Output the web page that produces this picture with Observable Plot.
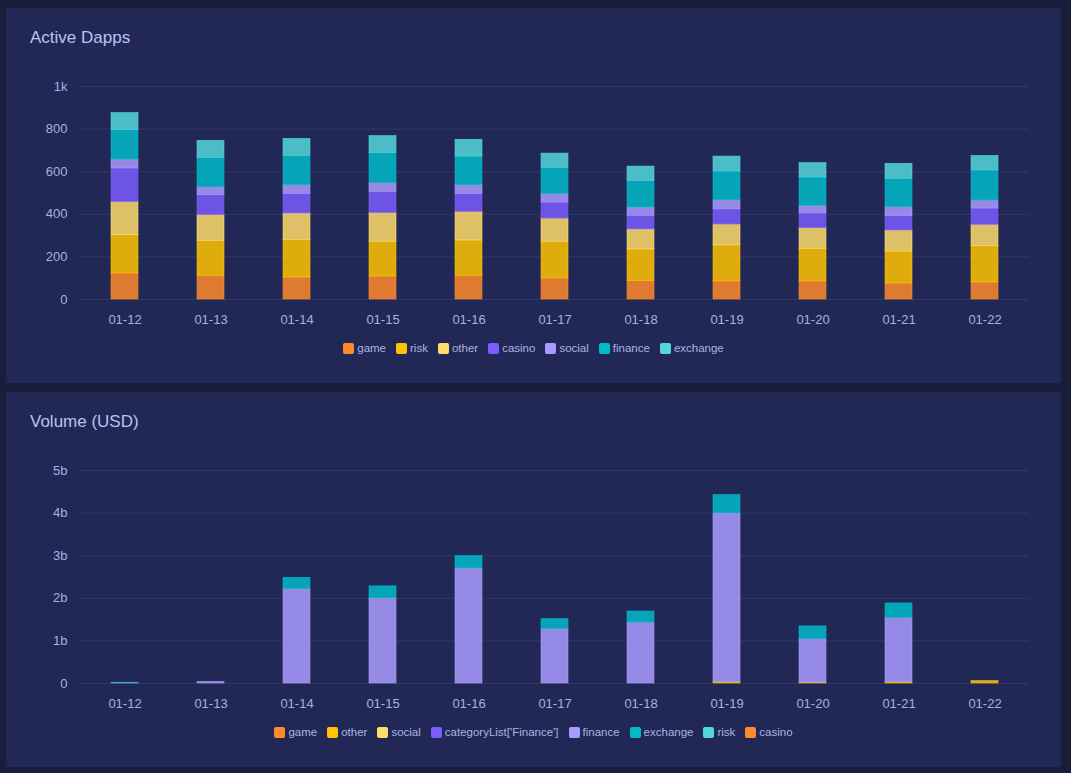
<!DOCTYPE html>
<html><head><meta charset="utf-8">
<script src="https://cdn.jsdelivr.net/npm/d3@7"></script>
<script src="https://cdn.jsdelivr.net/npm/@observablehq/plot@0.6"></script>
<style>
body{margin:0;background:#1b1e3a;width:1071px;height:773px;overflow:hidden;font-family:"Liberation Sans",Arial,sans-serif;position:relative;}
.panel{position:absolute;left:6px;width:1055px;height:375px;background:#222855;border-radius:2px;}
.title{position:absolute;left:24px;top:20px;font-size:17px;color:#b9c3ef;}
.chart{position:absolute;left:0;top:60px;}
.legend{position:absolute;left:0;top:334px;width:100%;display:flex;justify-content:center;gap:10px;font-size:11.5px;line-height:13px;color:#a9b3e3;}
.item{display:flex;align-items:center;gap:3px}
.sw{width:11px;height:11px;border-radius:2px}
</style></head>
<body>
<div class="panel" id="p1" style="top:8px"><div class="title">Active Dapps</div></div>
<div class="panel" id="p2" style="top:392px"><div class="title">Volume (USD)</div></div>
<script>
const dates = ["01-12","01-13","01-14","01-15","01-16","01-17","01-18","01-19","01-20","01-21","01-22"];

// Active Dapps
const dappSeries = ["game","risk","other","casino","social","finance","exchange"];
const dappColors = ["#ff8a2b","#ffc300","#ffdc6b","#7b5cff","#a99bff","#00bac9","#53d6dc"];
const dappGame     = [122,111,103,108,111, 99, 86, 85, 85, 75, 80];
const dappRisk     = [180,163,176,163,166,172,149,169,153,150,170];
const dappOther    = [156,123,125,136,135,109, 94, 98, 97, 99,101];
const dappCasino   = [157, 93, 92, 98, 84, 75, 64, 71, 69, 67, 76];
const dappSocial   = [ 42, 37, 42, 41, 41, 41, 39, 43, 36, 42, 38];
const dappFinance  = [138,137,135,141,134,122,124,135,133,134,141];
const dappExchange = [ 80, 81, 81, 80, 79, 67, 68, 70, 67, 70, 68];
const dappTicks = [0,200,400,600,800,1000];

// Volume (USD), billions
const volSeries = ["game","other","social","categoryList['Finance']","finance","exchange","risk","casino"];
const volColors = ["#ff8a2b","#ffc300","#ffdc6b","#7b5cff","#a99bff","#00bac9","#53d6dc","#ff8a2b"];
const volGame     = [0,0,0,0,0,0,0,0,0,0,0];
const volOther    = [0,0,0,0,0,0,0,0.035,0.02,0.03,0.055];
const volSocial   = [0,0,0,0,0,0,0,0,0,0,0];
const volCatFin   = [0,0,0,0,0,0,0,0,0,0,0];
const volFinance  = [0.012,0.035,2.22,2.00,2.70,1.28,1.43,3.96,1.02,1.51,0];
const volExchange = [0.006,0,0.26,0.28,0.29,0.23,0.26,0.43,0.30,0.34,0];
const volRisk     = [0,0,0,0,0,0,0,0,0,0,0];
const volCasino   = [0,0,0,0,0,0,0,0,0,0,0];
const volTicks = [0,1,2,3,4,5];

function rows(series, arrays){
  const out=[];
  series.forEach((s,k)=>arrays[k].forEach((v,i)=>{ if(v>0) out.push({date:dates[i],series:s,value:v}); }));
  return out;
}

function chart(data, series, colors, domain, ticks, fmt){
  return Plot.plot({
    width:1055, height:271,
    marginLeft:73, marginRight:32, marginTop:18, marginBottom:40,
    style:{background:"transparent", color:"#a6b1e1", fontSize:"13px", fontFamily:"'Liberation Sans',Arial,sans-serif"},
    x:{domain:dates, paddingInner:0.69, paddingOuter:0.345, label:null, tickSize:0, tickPadding:15},
    y:{domain, ticks, tickFormat:fmt, label:null, tickSize:0, tickPadding:12},
    color:{domain:series, range:colors},
    marks:[
      Plot.ruleY(ticks,{stroke:"#30386a", strokeWidth:1}),
      Plot.barY(data,{x:"date", y:"value", fill:"series", stroke:"series", strokeWidth:0.6, fillOpacity:0.85, order:series})
    ]
  });
}

function legend(series, colors){
  const d=document.createElement("div"); d.className="legend";
  series.forEach((s,i)=>{
    const it=document.createElement("div"); it.className="item";
    const sw=document.createElement("div"); sw.className="sw"; sw.style.background=colors[i];
    const t=document.createElement("span"); t.textContent=s;
    it.appendChild(sw); it.appendChild(t); d.appendChild(it);
  });
  return d;
}

const p1=document.getElementById("p1");
const c1=chart(rows(dappSeries,[dappGame,dappRisk,dappOther,dappCasino,dappSocial,dappFinance,dappExchange]),
  dappSeries,dappColors,[0,1000],dappTicks,d=>d===1000?"1k":String(d));
c1.classList.add("chart"); p1.appendChild(c1); p1.appendChild(legend(dappSeries,dappColors));

const p2=document.getElementById("p2");
const c2=chart(rows(volSeries,[volGame,volOther,volSocial,volCatFin,volFinance,volExchange,volRisk,volCasino]),
  volSeries,volColors,[0,5],volTicks,d=>d===0?"0":d+"b");
c2.classList.add("chart"); p2.appendChild(c2); p2.appendChild(legend(volSeries,volColors));
</script>
</body></html>
